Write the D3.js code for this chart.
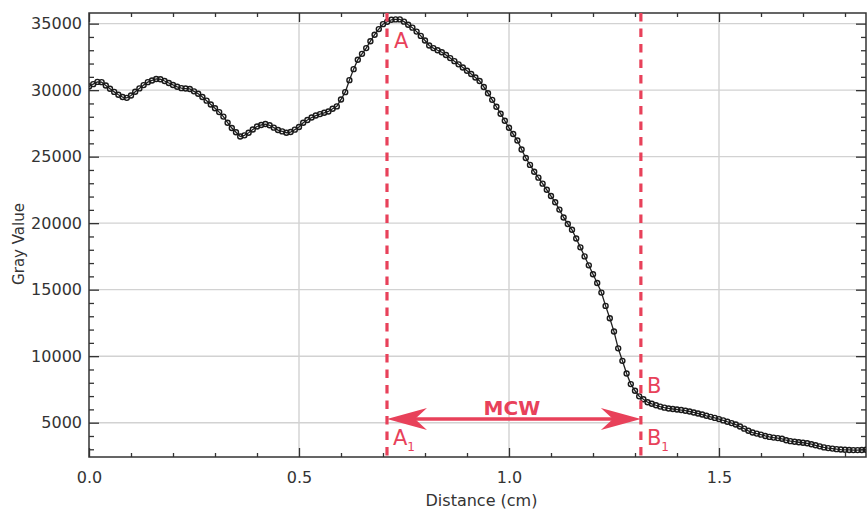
<!DOCTYPE html>
<html>
<head>
<meta charset="utf-8">
<script src="https://cdn.jsdelivr.net/npm/d3@7"></script>
<style>
body { margin: 0; background: #fff; }
svg { display: block; }
text { font-family: "DejaVu Sans", sans-serif; }
</style>
</head>
<body>
<div id="chart"></div>
<script>
// profile sampled every 0.01 cm
var step = 0.01;
var grayValues = [
  30280, 30450, 30620, 30600, 30350, 30110, 29870, 29650, 29480, 29420,
  29600, 29880, 30130, 30380, 30600, 30730, 30840, 30820, 30690, 30540,
  30390, 30250, 30150, 30120, 30090, 29910, 29730, 29490, 29210, 28920,
  28640, 28350, 28010, 27550, 27150, 26830, 26520, 26600, 26800, 27040,
  27270, 27380, 27450, 27360, 27180, 27000, 26900, 26800, 26850, 27030,
  27230, 27550, 27760, 27940, 28090, 28200, 28300, 28400, 28600, 28780,
  29300, 29850, 30750, 31580, 32290, 32730, 33160, 33680, 34170, 34590,
  34960, 35140, 35290, 35320, 35320, 35150, 34920, 34700, 34400, 34080,
  33730, 33360, 33160, 33000, 32850, 32640, 32410, 32180, 31940, 31700,
  31460, 31210, 30950, 30690, 30240, 29770, 29270, 28750, 28230, 27700,
  27170, 26700, 26210, 25540, 24900, 24380, 23870, 23420, 22970, 22510,
  22040, 21570, 21020, 20430, 19940, 19500, 18850, 18180, 17500, 16830,
  16160, 15500, 14780, 13780, 12850, 11850, 10590, 9650, 8700, 7900,
  7400, 6980, 6760, 6540, 6420, 6310, 6210, 6130, 6070, 6030,
  5990, 5950, 5900, 5840, 5770, 5690, 5610, 5520, 5440, 5360,
  5270, 5170, 5070, 4970, 4860, 4710, 4550, 4390, 4260, 4180,
  4100, 4000, 3930, 3880, 3840, 3790, 3680, 3610, 3570, 3530,
  3490, 3450, 3380, 3300, 3220, 3140, 3090, 3050, 3010, 2980,
  2960, 2950, 2940, 2940, 2950, 2960
];
var xMajor = [0, 0.5, 1.0, 1.5];
var xMinor = [0.1, 0.2, 0.3, 0.4, 0.6, 0.7, 0.8, 0.9, 1.1, 1.2, 1.3, 1.4, 1.6, 1.7, 1.8];
var yMajor = [5000, 10000, 15000, 20000, 25000, 30000, 35000];
var yMinor = d3.range(3000, 36000, 1000).filter(function (v) { return v % 5000 != 0; });
var edgeA = 0.7095, edgeB = 1.314;

var data = grayValues.map(function (v, i) { return {d: i * step, v: v}; });

var margin = {top: 13, right: 1, bottom: 58, left: 89},
  W = 867, H = 515,
  width = W - margin.left - margin.right,
  height = H - margin.top - margin.bottom;

var red = "#e8415a", ink = "#333";

var svg = d3.select("#chart").append("svg")
  .attr("width", W).attr("height", H)
  .append("g")
  .attr("transform", "translate(" + margin.left + "," + margin.top + ")");

var x = d3.scaleLinear().domain([0, 1.85]).range([0, width]);
var y = d3.scaleLinear().domain([2420, 35800]).range([height, 0]);

svg.append("clipPath").attr("id", "clip")
  .append("rect").attr("width", width).attr("height", height);

// grid
svg.append("g").selectAll("line").data(xMajor.slice(1)).enter().append("line")
  .attr("x1", function (d) { return x(d); }).attr("x2", function (d) { return x(d); })
  .attr("y1", 0).attr("y2", height)
  .attr("stroke", "#d2d2d2").attr("stroke-width", 1.4);
svg.append("g").selectAll("line").data(yMajor).enter().append("line")
  .attr("y1", function (d) { return y(d); }).attr("y2", function (d) { return y(d); })
  .attr("x1", 0).attr("x2", width)
  .attr("stroke", "#d2d2d2").attr("stroke-width", 1.4);

function styleAxis(g) {
  g.select(".domain").remove();
  g.selectAll("line").attr("stroke", ink).attr("stroke-width", 1.3);
  g.selectAll("text").attr("fill", ink).style("font-size", "16px")
    .style("font-family", "'DejaVu Sans', sans-serif");
}

// bottom
svg.append("g").attr("transform", "translate(0," + height + ")")
  .call(d3.axisBottom(x).tickValues(xMajor).tickFormat(d3.format(".1f"))
    .tickSize(-9).tickSizeOuter(0).tickPadding(15)).call(styleAxis);
svg.append("g").attr("transform", "translate(0," + height + ")")
  .call(d3.axisBottom(x).tickValues(xMinor).tickFormat("").tickSize(-4).tickSizeOuter(0)).call(styleAxis);
// top
svg.append("g")
  .call(d3.axisTop(x).tickValues(xMajor).tickFormat("").tickSize(-9).tickSizeOuter(0)).call(styleAxis);
svg.append("g")
  .call(d3.axisTop(x).tickValues(xMinor).tickFormat("").tickSize(-4).tickSizeOuter(0)).call(styleAxis);
// left
svg.append("g")
  .call(d3.axisLeft(y).tickValues(yMajor).tickFormat(d3.format("d"))
    .tickSize(-10).tickSizeOuter(0).tickPadding(7)).call(styleAxis);
svg.append("g")
  .call(d3.axisLeft(y).tickValues(yMinor).tickFormat("").tickSize(-5).tickSizeOuter(0)).call(styleAxis);
// right
svg.append("g").attr("transform", "translate(" + width + ",0)")
  .call(d3.axisRight(y).tickValues(yMajor).tickFormat("").tickSize(-10).tickSizeOuter(0)).call(styleAxis);
svg.append("g").attr("transform", "translate(" + width + ",0)")
  .call(d3.axisRight(y).tickValues(yMinor).tickFormat("").tickSize(-5).tickSizeOuter(0)).call(styleAxis);

// frame
svg.append("rect").attr("width", width).attr("height", height)
  .attr("fill", "none").attr("stroke", ink).attr("stroke-width", 1.5);

// profile
var plot = svg.append("g").attr("clip-path", "url(#clip)");
plot.append("path").datum(data)
  .attr("fill", "none").attr("stroke", "#222").attr("stroke-width", 1.3)
  .attr("d", d3.line().x(function (d) { return x(d.d); }).y(function (d) { return y(d.v); }));
plot.selectAll("circle").data(data).enter().append("circle")
  .attr("cx", function (d) { return x(d.d); })
  .attr("cy", function (d) { return y(d.v); })
  .attr("r", 2.5)
  .attr("fill", "none").attr("stroke", "#1a1a1a").attr("stroke-width", 1.4);

// edge markers
svg.selectAll(".edge").data([edgeA, edgeB]).enter().append("line")
  .attr("x1", function (d) { return x(d); }).attr("x2", function (d) { return x(d); })
  .attr("y1", 0).attr("y2", height)
  .attr("stroke", red).attr("stroke-width", 3.2).attr("stroke-dasharray", "8.5,7");

// MCW arrow
var ay = 406, xa = x(edgeA), xb = x(edgeB);
svg.append("line").attr("x1", xa + 20).attr("x2", xb - 20).attr("y1", ay).attr("y2", ay)
  .attr("stroke", red).attr("stroke-width", 3.5);
function head(tip, dir) {
  return "M" + tip + "," + ay +
    "L" + (tip + dir * 40) + "," + (ay - 11) +
    "L" + (tip + dir * 28) + "," + ay +
    "L" + (tip + dir * 40) + "," + (ay + 11) + "Z";
}
svg.append("path").attr("d", head(xa, 1)).attr("fill", red);
svg.append("path").attr("d", head(xb, -1)).attr("fill", red);

svg.append("text").attr("x", (xa + xb) / 2 - 2).attr("y", 402)
  .attr("text-anchor", "middle").attr("fill", red)
  .style("font-size", "20px").style("font-weight", "bold").text("MCW");

function label(xp, yp, main, sub) {
  var t = svg.append("text").attr("x", xp).attr("y", yp).attr("fill", red)
    .style("font-size", "21px").text(main);
  if (sub) t.append("tspan").attr("dy", 6).style("font-size", "12px").text(sub);
}
label(xa + 7, 35, "A");
label(xb + 6, 380, "B");
label(xa + 6, 432, "A", "1");
label(xb + 6, 432, "B", "1");

// axis titles
svg.append("text").attr("x", width / 2 + 4).attr("y", height + 49)
  .attr("text-anchor", "middle").attr("fill", ink).style("font-size", "16px")
  .text("Distance (cm)");
svg.append("text")
  .attr("transform", "translate(" + (-65) + "," + (height / 2 + 9) + ") rotate(-90)")
  .attr("text-anchor", "middle").attr("fill", ink).style("font-size", "15px")
  .text("Gray Value");
</script>
</body>
</html>
